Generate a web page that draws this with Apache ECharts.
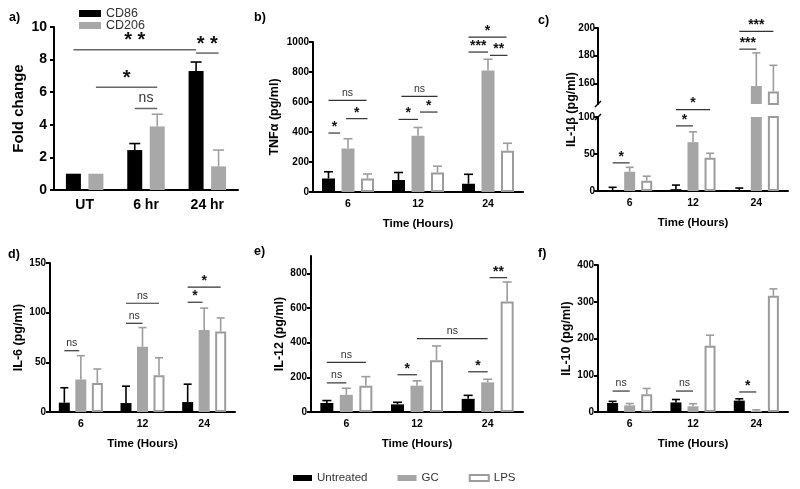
<!DOCTYPE html>
<html><head><meta charset="utf-8">
<script src="https://cdn.jsdelivr.net/npm/echarts@6/dist/echarts.min.js"></script>
<style>html,body{margin:0;padding:0;background:#fff}#c{width:800px;height:489px}</style>
</head><body><div id="c"></div>
<script>
// ---------- data ----------
const timeCats = ['6', '12', '24'];
const aCats = ['UT', '6 hr', '24 hr'];
const groupNames = ['Untreated', 'GC', 'LPS'];

// panel a: fold change
const aCD86 = [1, 2.45, 7.3];
const aCD86Err = [0, 0.4, 0.55];
const aCD206 = [1, 3.9, 1.45];
const aCD206Err = [0, 0.75, 1.0];

// panel b: TNFα (rows: Untreated, GC, LPS)
const bMean = [[90, 80, 55], [290, 375, 810], [90, 130, 275]];
const bErr = [[45, 50, 63], [65, 55, 75], [30, 42, 50]];
// panel c: IL-1β
const cMean = [[0.5, 2.5, 1], [26, 66, 158], [14, 45, 154]];
const cErr = [[4.5, 5.5, 3], [6, 14, 24], [6, 6, 19]];
// panel d: IL-6
const dMean = [[9.4, 9, 10], [32.7, 65.7, 82.6], [29.3, 37, 81]];
const dErr = [[15, 17, 18], [24, 19.3, 22], [14, 17.6, 13.7]];
// panel e: IL-12
const eMean = [[52, 44, 76], [99, 152, 171], [152, 299, 638]];
const eErr = [[14, 12, 20], [38, 28, 18], [52, 82, 112]];
// panel f: IL-10
const fMean = [[24.5, 26, 31], [18, 15.5, 3], [48, 180, 316]];
const fErr = [[4.5, 8, 5], [5, 7, 3], [16, 29, 19]];

// significance brackets: [cat1, slot1, cat2, slot2, y, label]
const aBrackets = [[0, -0.5, 2, -0.5, 8.6, '**'], [2, -0.5, 2, 0.5, 8.4, '**'], [0, 0.5, 1, 0.5, 6.3, '*'], [1, -0.5, 1, 0.5, 5.0, 'ns']];
const bBrackets = [[0, -1, 0, -0.4, 393, '*'], [0, -1, 0, 0.95, 611, 'ns'], [0, -0.1, 0, 1, 489, '*'],
  [1, -1, 1, 0, 484, '*'], [1, -0.85, 1, 1, 638, 'ns'], [1, 0.1, 1, 1, 533, '*'],
  [2, -1, 2, 0, 933, '***'], [2, 0.1, 2, 1, 911, '**'], [2, -1, 2, 0.95, 1033, '*']];
const cLowBrackets = [[0, -1, 0, 0, 38, '*'], [1, -1, 1, 0, 88, '*'], [1, -1, 1, 1, 110, '*']];
const cHighBrackets = [[2, -1, 2, 0, 184.7, '***'], [2, -1, 2, 1, 197.5, '***']];
const dBrackets = [[0, -1, 0, -0.1, 61.7, 'ns'], [1, -1, 1, 0, 89.3, 'ns'], [1, -1, 1, 1, 109.5, 'ns'],
  [2, -1, 2, -0.1, 110.5, '*'], [2, -1, 2, 1, 125.7, '*']];
const eBrackets = [[0, -1, 0, 0, 168, 'ns'], [0, -1, 0, 1, 286, 'ns'], [1, -1, 1, 0, 215, '*'],
  [1, 0, 2, 0, 423, 'ns'], [2, -1, 2, 0, 232, '*'], [2, 0.1, 2, 1, 775, '**']];
const fBrackets = [[0, -1, 0, 0, 57, 'ns'], [1, -1, 1, 0, 57, 'ns'], [2, -1, 2, 0, 54.5, '*']];

// ---------- styles ----------
const FONT = '"Liberation Sans", Arial, sans-serif';
const GRAY = '#a5a5a5';
const LPSB = '#9c9c9c';
const barStyles = [{color: '#000'}, {color: GRAY}, {color: '#fff', borderColor: LPSB, borderWidth: 2}];
const errColors = ['#000', '#9d9d9d', '#9d9d9d'];

const grids = [
  {left: 54, top: 27, width: 184, height: 163},   // 0 a
  {left: 313, top: 42, width: 210, height: 150},  // 1 b
  {left: 598, top: 28, width: 190, height: 76},   // 2 c upper
  {left: 598, top: 117, width: 190, height: 74},  // 3 c lower
  {left: 50, top: 263, width: 185, height: 149},  // 4 d
  {left: 311, top: 256, width: 212, height: 156}, // 5 e
  {left: 598, top: 265, width: 190, height: 147}, // 6 f
  {left: 598, top: 28, width: 190, height: 163}   // 7 c full (name only)
];

const plain = v => String(v);
function lab(o = {}) {
  return Object.assign({color: '#000', fontWeight: 'bold', fontSize: 10, fontFamily: FONT, margin: 4, formatter: plain}, o);
}
function xAx(gi, cats, o = {}) {
  return Object.assign({
    type: 'category', gridIndex: gi, data: cats,
    axisLine: {lineStyle: {color: '#000', width: 2}},
    axisTick: {alignWithLabel: true, length: 4, lineStyle: {color: '#000', width: 2}},
    axisLabel: {color: '#000', fontWeight: 'bold', fontSize: 10.5, fontFamily: FONT, margin: 7},
    name: 'Time (Hours)', nameLocation: 'middle', nameGap: 26,
    nameTextStyle: {color: '#000', fontWeight: 'bold', fontSize: 11.5, fontFamily: FONT}
  }, o);
}
function yAx(gi, o = {}) {
  return Object.assign({
    type: 'value', gridIndex: gi,
    axisLine: {show: true, lineStyle: {color: '#000', width: 2}},
    axisTick: {show: true, length: 4, lineStyle: {color: '#000', width: 2}},
    axisLabel: lab(),
    splitLine: {show: false},
    nameLocation: 'middle', nameRotate: 90,
    nameTextStyle: {color: '#000', fontWeight: 'bold', fontSize: 12.5, fontFamily: FONT}
  }, o);
}

const xAxis = [
  xAx(0, aCats, {name: '', axisLabel: {color: '#000', fontWeight: 'bold', fontSize: 14, fontFamily: FONT, margin: 8}}),
  xAx(1, timeCats),
  xAx(2, timeCats, {show: false}),
  xAx(3, timeCats),
  xAx(4, timeCats),
  xAx(5, timeCats),
  xAx(6, timeCats),
  xAx(7, timeCats, {show: false})
];
const yAxis = [
  yAx(0, {min: 0, max: 10, interval: 2, name: 'Fold change', nameGap: 28,
    axisLabel: lab({fontSize: 14, margin: 7}),
    nameTextStyle: {color: '#000', fontWeight: 'bold', fontSize: 15, fontFamily: FONT}}),
  yAx(1, {min: 0, max: 1000, interval: 200, name: 'TNFα (pg/ml)', nameGap: 32}),
  yAx(2, {min: 145, max: 200,
    axisTick: {show: true, length: 4, lineStyle: {color: '#000', width: 2}, customValues: [160, 180, 200]},
    axisLabel: lab({margin: 3, customValues: [160, 180, 200]})}),
  yAx(3, {min: 0, max: 100, interval: 50, axisLabel: lab({margin: 3})}),
  yAx(4, {min: 0, max: 150, interval: 50, name: 'IL-6 (pg/ml)', nameGap: 21}),
  yAx(5, {min: 0, max: 900, name: 'IL-12 (pg/ml)', nameGap: 22,
    axisTick: {show: true, length: 4, lineStyle: {color: '#000', width: 2}, customValues: [0, 200, 400, 600, 800]},
    axisLabel: lab({customValues: [0, 200, 400, 600, 800]})}),
  yAx(6, {min: 0, max: 400, interval: 100, name: 'IL-10 (pg/ml)', nameGap: 20}),
  yAx(7, {min: 0, max: 1, name: 'IL-1β (pg/ml)', nameGap: 20,
    axisLine: {show: false}, axisTick: {show: false}, axisLabel: {show: false}})
];

const series = [];

function addBars(gi, mean, bw, gap, names, styles, mapFn) {
  names.forEach((nm, k) => {
    series.push({
      type: 'bar', name: nm, xAxisIndex: gi, yAxisIndex: gi,
      data: mapFn ? mean[k].map(mapFn) : mean[k],
      barWidth: bw, barGap: gap, itemStyle: styles[k], z: 2, animation: false, silent: true
    });
  });
}

function addErrors(gi, mean, err, slot, colors, cap, filter) {
  const n = mean.length;
  const data = [];
  mean.forEach((arr, k) => arr.forEach((m, ci) => {
    if (err[k][ci] > 0 && (!filter || filter(m))) data.push([ci, k, m, err[k][ci]]);
  }));
  series.push({
    type: 'custom', xAxisIndex: gi, yAxisIndex: gi, data, z: 4, silent: true, animation: false, clip: false,
    encode: {x: 0, y: 2},
    renderItem(params, api) {
      const ci = api.value(0), k = api.value(1), m = api.value(2), e = api.value(3);
      const p0 = api.coord([ci, m]);
      const p1 = api.coord([ci, m + e]);
      const x = p0[0] + (k - (n - 1) / 2) * slot;
      const st = {stroke: colors[k], lineWidth: 1.6};
      return {type: 'group', children: [
        {type: 'line', shape: {x1: x, y1: p0[1], x2: x, y2: p1[1]}, style: st},
        {type: 'line', shape: {x1: x - cap, y1: p1[1], x2: x + cap, y2: p1[1]}, style: st}
      ]};
    }
  });
}

function addBrackets(gi, list, slot, big) {
  series.push({
    type: 'custom', xAxisIndex: gi, yAxisIndex: gi, z: 5, silent: true, animation: false, clip: false,
    data: list.map(b => [b[0], b[2], b[4]]),
    encode: {x: [0, 1], y: 2},
    renderItem(params, api) {
      const b = list[params.dataIndex];
      const p1 = api.coord([b[0], b[4]]);
      const p2 = api.coord([b[2], b[4]]);
      const x1 = p1[0] + b[1] * slot, x2 = p2[0] + b[3] * slot, y = p1[1];
      const star = b[5].indexOf('*') >= 0;
      const fs = big ? (star ? 20 : 14) : (star ? 14 : 10.5);
      const off = big ? (star ? -1 : 3) : (star ? -1 : 2);
      return {type: 'group', children: [
        {type: 'line', shape: {x1, y1: y, x2, y2: y}, style: {stroke: big ? '#666' : '#333', lineWidth: big ? 1.5 : 1.2}},
        {type: 'text', x: (x1 + x2) / 2, y: y - off, style: {
          text: big && star ? b[5].split('').join(' ') : b[5],
          textAlign: 'center', align: 'center', textVerticalAlign: 'bottom', verticalAlign: 'bottom',
          fontSize: fs, fontWeight: star ? 'bold' : 'normal', fontFamily: FONT, fill: star ? '#111' : '#333'
        }}
      ]};
    }
  });
}

// panel a
series.push({type: 'bar', name: 'CD86', xAxisIndex: 0, yAxisIndex: 0, data: aCD86, barWidth: 15, barGap: '50%', itemStyle: {color: '#000'}, animation: false, silent: true});
series.push({type: 'bar', name: 'CD206', xAxisIndex: 0, yAxisIndex: 0, data: aCD206, barWidth: 15, barGap: '50%', itemStyle: {color: '#a8a8a8'}, animation: false, silent: true});
addErrors(0, [aCD86, aCD206], [aCD86Err, aCD206Err], 22.5, ['#000', '#a0a0a0'], 5.5);
addBrackets(0, aBrackets, 22.5, true);

// panel b
addBars(1, bMean, 13, '50%', groupNames, barStyles);
addErrors(1, bMean, bErr, 19.5, errColors, 4.5);
addBrackets(1, bBrackets, 19.5, false);

// panel c (broken axis: upper + lower grids)
addBars(3, cMean, 11, '55%', groupNames, barStyles);
addBars(2, cMean, 11, '55%', groupNames, barStyles, v => (v > 145 ? v : '-'));
addErrors(3, cMean, cErr, 17.05, errColors, 4, m => m <= 100);
addErrors(2, cMean, cErr, 17.05, errColors, 4, m => m > 100);
addBrackets(3, cLowBrackets, 17.05, false);
addBrackets(2, cHighBrackets, 17.05, false);
// axis break marks
function breakMark(gi, atTop) {
  series.push({
    type: 'custom', xAxisIndex: gi, yAxisIndex: gi, data: [[0, 0]], silent: true, animation: false, clip: false, z: 6,
    renderItem(params) {
      const cs = params.coordSys;
      const y = atTop ? cs.y : cs.y + cs.height;
      const x = cs.x;
      return {type: 'line', shape: {x1: x - 3, y1: y + 3, x2: x + 3, y2: y - 3}, style: {stroke: '#000', lineWidth: 1.5}};
    }
  });
}
breakMark(3, true);
breakMark(2, false);

// panel d
addBars(4, dMean, 11, '50%', groupNames, barStyles);
addErrors(4, dMean, dErr, 16.5, errColors, 4);
addBrackets(4, dBrackets, 16.5, false);

// panel e
addBars(5, eMean, 13, '50%', groupNames, barStyles);
addErrors(5, eMean, eErr, 19.5, errColors, 4.5);
addBrackets(5, eBrackets, 19.5, false);

// panel f
addBars(6, fMean, 11, '55%', groupNames, barStyles);
addErrors(6, fMean, fErr, 17.05, errColors, 4);
addBrackets(6, fBrackets, 17.05, false);

const tStyle = {fontSize: 12.5, fontWeight: 'bold', color: '#000', fontFamily: FONT};
const title = [
  {text: 'a)', left: 4, top: 6, textStyle: tStyle},
  {text: 'b)', left: 249, top: 6, textStyle: tStyle},
  {text: 'c)', left: 533, top: 9, textStyle: tStyle},
  {text: 'd)', left: 3, top: 243, textStyle: tStyle},
  {text: 'e)', left: 249, top: 240, textStyle: tStyle},
  {text: 'f)', left: 533, top: 242, textStyle: tStyle}
];

const legTxt = {fontSize: 12.5, color: '#333', fontFamily: FONT};
const legTxt2 = {fontSize: 11.5, color: '#333', fontFamily: FONT};
const legend = [
  {data: ['CD86'], left: 74, top: 2, icon: 'rect', itemWidth: 22, itemHeight: 7, textStyle: legTxt, selectedMode: false},
  {data: [{name: 'CD206', itemStyle: {color: '#a8a8a8'}}], left: 74, top: 14, icon: 'rect', itemWidth: 22, itemHeight: 7, textStyle: legTxt, selectedMode: false},
  {data: [{name: 'Untreated'}, {name: 'GC'}, {name: 'LPS', itemStyle: {color: '#fff', borderColor: LPSB, borderWidth: 2}}],
    left: 288, top: 467, icon: 'rect', itemWidth: 19, itemHeight: 6, itemGap: 30, textStyle: legTxt2, selectedMode: false}
];

const chart = echarts.init(document.getElementById('c'));
chart.setOption({animation: false, backgroundColor: '#fff', title, legend, grid: grids, xAxis, yAxis, series});
</script>
</body></html>
